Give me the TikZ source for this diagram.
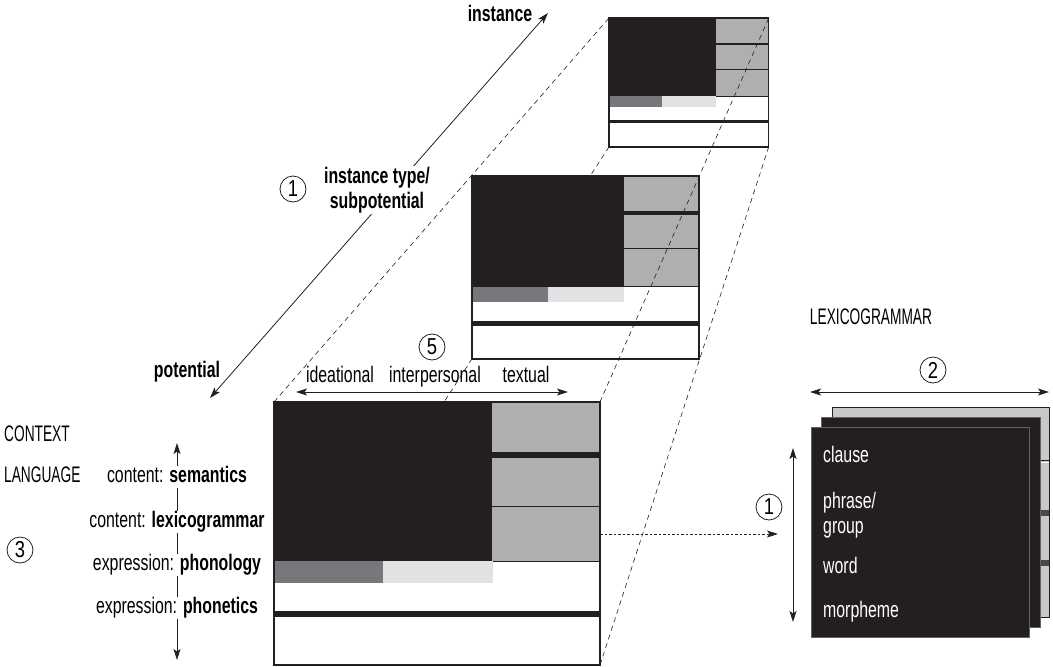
\documentclass[tikz,border=0pt]{standalone}
\usepackage{fontspec}
\setmainfont{Liberation Sans}[FakeStretch=0.705]
\newfontfamily\capsfont{Liberation Sans}[FakeStretch=0.61]
\newfontfamily\digitfont{Liberation Sans}[FakeStretch=0.8]
\usetikzlibrary{arrows.meta}

\definecolor{ink}{HTML}{231F20}
\definecolor{cellgray}{HTML}{AEAFB1}
\definecolor{banddark}{HTML}{77787B}
\definecolor{bandlight}{HTML}{E1E2E3}
\definecolor{cardgray}{HTML}{C7C8CA}
\definecolor{bargray}{HTML}{4A4A4C}

\pgfdeclarelayer{behind}
\pgfsetlayers{behind,main}

\tikzset{
  lbl/.style={font=\fontsize{22.5}{25}\selectfont, inner sep=1pt, text height=16pt, text depth=4.8pt},
  bold lbl/.style={lbl, font=\fontsize{22.5}{25}\selectfont\bfseries},
  caps lbl/.style={lbl, font=\fontsize{22.5}{25}\selectfont\capsfont},
  card lbl/.style={lbl, text=white, anchor=west},
  numcircle/.style={circle, draw=ink, line width=0.8pt, minimum size=26pt, inner sep=0pt,
                    font=\fontsize{23}{23}\selectfont\digitfont},
  arr/.style={draw=ink, line width=0.8pt, {Stealth[length=11pt,width=7pt,inset=2.5pt]}-{Stealth[length=11pt,width=7pt,inset=2.5pt]}},
  arr one/.style={draw=ink, line width=0.8pt, -{Stealth[length=11pt,width=7pt,inset=2.5pt]}},
  proj/.style={draw=ink, line width=0.6pt, dash pattern=on 5pt off 4pt},
  dotted link/.style={draw=ink, line width=0.8pt, dash pattern=on 2.5pt off 2pt},
  card/.style={draw=ink!70, line width=0.6pt},
}

% one stratal block: #1 name, #2/#3 top-left corner, #4 scale
\newcommand{\stratblock}[4]{%
  \begin{scope}[shift={(#2,#3)}, scale=#4]
    \fill[white] (0,0) rectangle (326,263);
    \fill[ink] (0,0) rectangle (218,159);
    \fill[cellgray] (218,0) rectangle (326,159);
    \fill[ink] (218,50) rectangle (326,55.5);
    \draw[ink, line width=0.8pt] (218,104.5) -- (326,104.5);
    \draw[ink, line width=0.8pt] (218,159) -- (326,159);
    \fill[banddark] (0,159) rectangle (109,181);
    \fill[bandlight] (109,159) rectangle (219,181);
    \fill[ink] (0,209) rectangle (326,215);
    \draw[ink, line width=1.4pt] (0,0) rectangle (326,263);
    \coordinate (#1-tl) at (0,0);
    \coordinate (#1-tr) at (326,0);
    \coordinate (#1-bl) at (0,263);
    \coordinate (#1-br) at (326,263);
    \coordinate (#1-e) at (326,132);
  \end{scope}}

\begin{document}
\begin{tikzpicture}[x=1pt, y=-1pt]
\useasboundingbox (0,0) rectangle (1053,667);

% the three blocks: potential, instance type, instance
\stratblock{B}{274}{402}{1}
\stratblock{M}{472}{176}{0.696}
\stratblock{T}{609}{18}{0.49}

% projection lines, behind the blocks
\begin{pgfonlayer}{behind}
  \draw[proj] (B-tl) -- (T-tl);
  \draw[proj] (B-bl) -- (T-bl);
  \draw[proj] (B-br) -- (T-br);
\end{pgfonlayer}
% projection line drawn across the blocks
\draw[proj] (B-tr) -- (T-tr);

% instantiation cline
\coordinate (potTip) at (210,398);
\coordinate (instTip) at (548,13);
\draw[arr] (potTip) -- (instTip);
\node[bold lbl, fill=white, align=center, text height=, text depth=] (itype) at (377,190)
  {instance type/\\subpotential};
\node[bold lbl] (inst) at (500,16) {instance};
\node[bold lbl] (pot) at (187,372) {potential};
\node[numcircle] (c1a) at (293,189) {1};

% metafunctions
\node[lbl] (ideat) at (340,377) {ideational};
\node[lbl] (interp) at (435,377) {interpersonal};
\node[lbl] (textu) at (526,377) {textual};
\coordinate (mfL) at (296,392);
\coordinate (mfR) at (568,392);
\draw[arr] (mfL) -- (mfR);
\node[numcircle] (c5) at (432,347) {5};

% stratification
\node[caps lbl, anchor=west] (ctx) at (3,436) {CONTEXT};
\node[caps lbl, anchor=west] (lang) at (3,477) {LANGUAGE};
\node[numcircle] (c3) at (20,550) {3};
\coordinate (stTop) at (177,443);
\coordinate (stBot) at (177,660);
\draw[arr] (stTop) -- (stBot);
\node[lbl, fill=white] (sem) at (177,477) {content: \textbf{semantics}};
\node[lbl, fill=white] (lex) at (177,522) {content: \textbf{lexicogrammar}};
\node[lbl, fill=white] (phon) at (177,565) {expression: \textbf{phonology}};
\node[lbl, fill=white] (phont) at (177,608) {expression: \textbf{phonetics}};

% lexicogrammar: rank scale cards
\node[caps lbl] (lg) at (871,319) {LEXICOGRAMMAR};
\fill[cardgray] (832,407) rectangle (1049,617);
\draw[ink, line width=0.9pt] (832,460) -- (1049,460);
\draw[white, line width=0.8pt] (832,462) -- (1049,462);
\fill[bargray] (832,510) rectangle (1049,516);
\fill[bargray] (832,560) rectangle (1049,566);
\draw[ink, line width=1pt] (832,407) rectangle (1049,617);
\filldraw[fill=ink, card] (821,417) rectangle (1040,627);
\filldraw[fill=ink, card] (811,427) rectangle (1029,637);
\coordinate (cardW) at (778,534);

\node[card lbl] (clause) at (822,457) {clause};
\node[card lbl, align=left, text height=, text depth=] (phrase) at (822,515) {phrase/\\group};
\node[card lbl] (word) at (822,568) {word};
\node[card lbl] (morph) at (822,612) {morpheme};

\coordinate (rkTop) at (793,448);
\coordinate (rkBot) at (793,622);
\draw[arr] (rkTop) -- (rkBot);
\node[numcircle] (c1b) at (769,507) {1};

\coordinate (axL) at (810,392);
\coordinate (axR) at (1049,392);
\draw[arr] (axL) -- (axR);
\node[numcircle] (c2) at (933,370) {2};

% zoom from the lexicogrammar stratum to its rank scale
\draw[dotted link, arr one] (B-e) -- (cardW);
\end{tikzpicture}
\end{document}
